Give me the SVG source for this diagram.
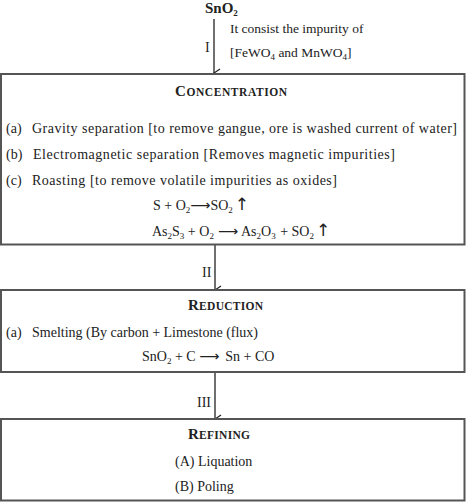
<svg xmlns="http://www.w3.org/2000/svg" width="466" height="502" viewBox="0 0 466 502">
<defs>
<marker id="ah" markerWidth="10" markerHeight="8" refX="5" refY="7" orient="auto-start-reverse" markerUnits="userSpaceOnUse" viewBox="0 0 10 8">
<path d="M1,1 L5,7 L9,1" fill="none" stroke="#222" stroke-width="1.3"/>
</marker>
<style>
text{font-family:"Liberation Serif","Times New Roman",serif;fill:#222;font-size:14px}
.box{fill:#fff;stroke:#555;stroke-width:2}
.hd{font-weight:bold;font-size:15px}
.hs{font-size:11.5px}
.sub{font-size:9px}
.sm{font-size:13.5px}
.conn{stroke:#222;stroke-width:1.3;fill:none;marker-end:url(#ah)}
.arr{font-family:"DejaVu Sans",sans-serif;font-size:14px}
.up{font-family:"DejaVu Sans",sans-serif;font-size:17px}
</style>
</defs>
<rect width="466" height="502" fill="#fff"/>

<g id="connectors">
<line class="conn" x1="214" y1="19" x2="214" y2="73"/>
<line class="conn" x1="215" y1="245" x2="215" y2="290"/>
<line class="conn" x1="215" y1="373" x2="215" y2="419"/>
<text x="205" y="52">I</text>
<text x="202" y="277">II</text>
<text x="197" y="407">III</text>
</g>

<g id="ore">
<text x="205" y="13" class="hd">SnO<tspan class="sub" dy="3">2</tspan></text>
<text x="230" y="33" class="sm">It consist the impurity of</text>
<text x="230" y="57" class="sm">[FeWO<tspan class="sub" dy="3">4</tspan><tspan dy="-3"> and MnWO</tspan><tspan class="sub" dy="3">4</tspan><tspan dy="-3">]</tspan></text>
</g>

<g id="concentration">
<rect class="box" x="1" y="74" width="463.5" height="170.5"/>
<text x="175" y="96" class="hd" textLength="112" lengthAdjust="spacing">C<tspan class="hs">ONCENTRATION</tspan></text>
<text x="6" y="133">(a)</text>
<text x="32" y="133" textLength="425" lengthAdjust="spacing">Gravity separation [to remove gangue, ore is washed current of water]</text>
<text x="6" y="159">(b)</text>
<text x="33" y="159" textLength="362" lengthAdjust="spacing">Electromagnetic separation [Removes magnetic impurities]</text>
<text x="6" y="185">(c)</text>
<text x="32" y="185" textLength="305" lengthAdjust="spacing">Roasting [to remove volatile impurities as oxides]</text>
<text x="153" y="210">S + O<tspan class="sub" dy="3">2</tspan><tspan class="arr" dy="-3">⟶</tspan><tspan>SO</tspan><tspan class="sub" dy="3">2</tspan><tspan class="up" dy="-3" dx="2">↑</tspan></text>
<text x="152" y="236">As<tspan class="sub" dy="3">2</tspan><tspan dy="-3">S</tspan><tspan class="sub" dy="3">3</tspan><tspan dy="-3"> + O</tspan><tspan class="sub" dy="3">2</tspan><tspan class="arr" dy="-3" dx="4">⟶</tspan><tspan dx="3">As</tspan><tspan class="sub" dy="3">2</tspan><tspan dy="-3">O</tspan><tspan class="sub" dy="3">3</tspan><tspan dy="-3" dx="1"> + SO</tspan><tspan class="sub" dy="3">2</tspan><tspan class="up" dy="-3" dx="2">↑</tspan></text>
</g>

<g id="reduction">
<rect class="box" x="1" y="290" width="463.5" height="82"/>
<text x="188" y="310" class="hd" textLength="75" lengthAdjust="spacing">R<tspan class="hs">EDUCTION</tspan></text>
<text x="6" y="337">(a)</text>
<text x="32" y="337">Smelting (By carbon + Limestone (flux)</text>
<text x="142" y="361">SnO<tspan class="sub" dy="3">2</tspan><tspan dy="-3"> + C </tspan><tspan class="arr">⟶</tspan><tspan dx="6">Sn + CO</tspan></text>
</g>

<g id="refining">
<rect class="box" x="1" y="419" width="463.5" height="81.5"/>
<text x="188" y="439" class="hd" textLength="62" lengthAdjust="spacing">R<tspan class="hs">EFINING</tspan></text>
<text x="175" y="466">(A) Liquation</text>
<text x="175" y="491">(B) Poling</text>
</g>
</svg>
